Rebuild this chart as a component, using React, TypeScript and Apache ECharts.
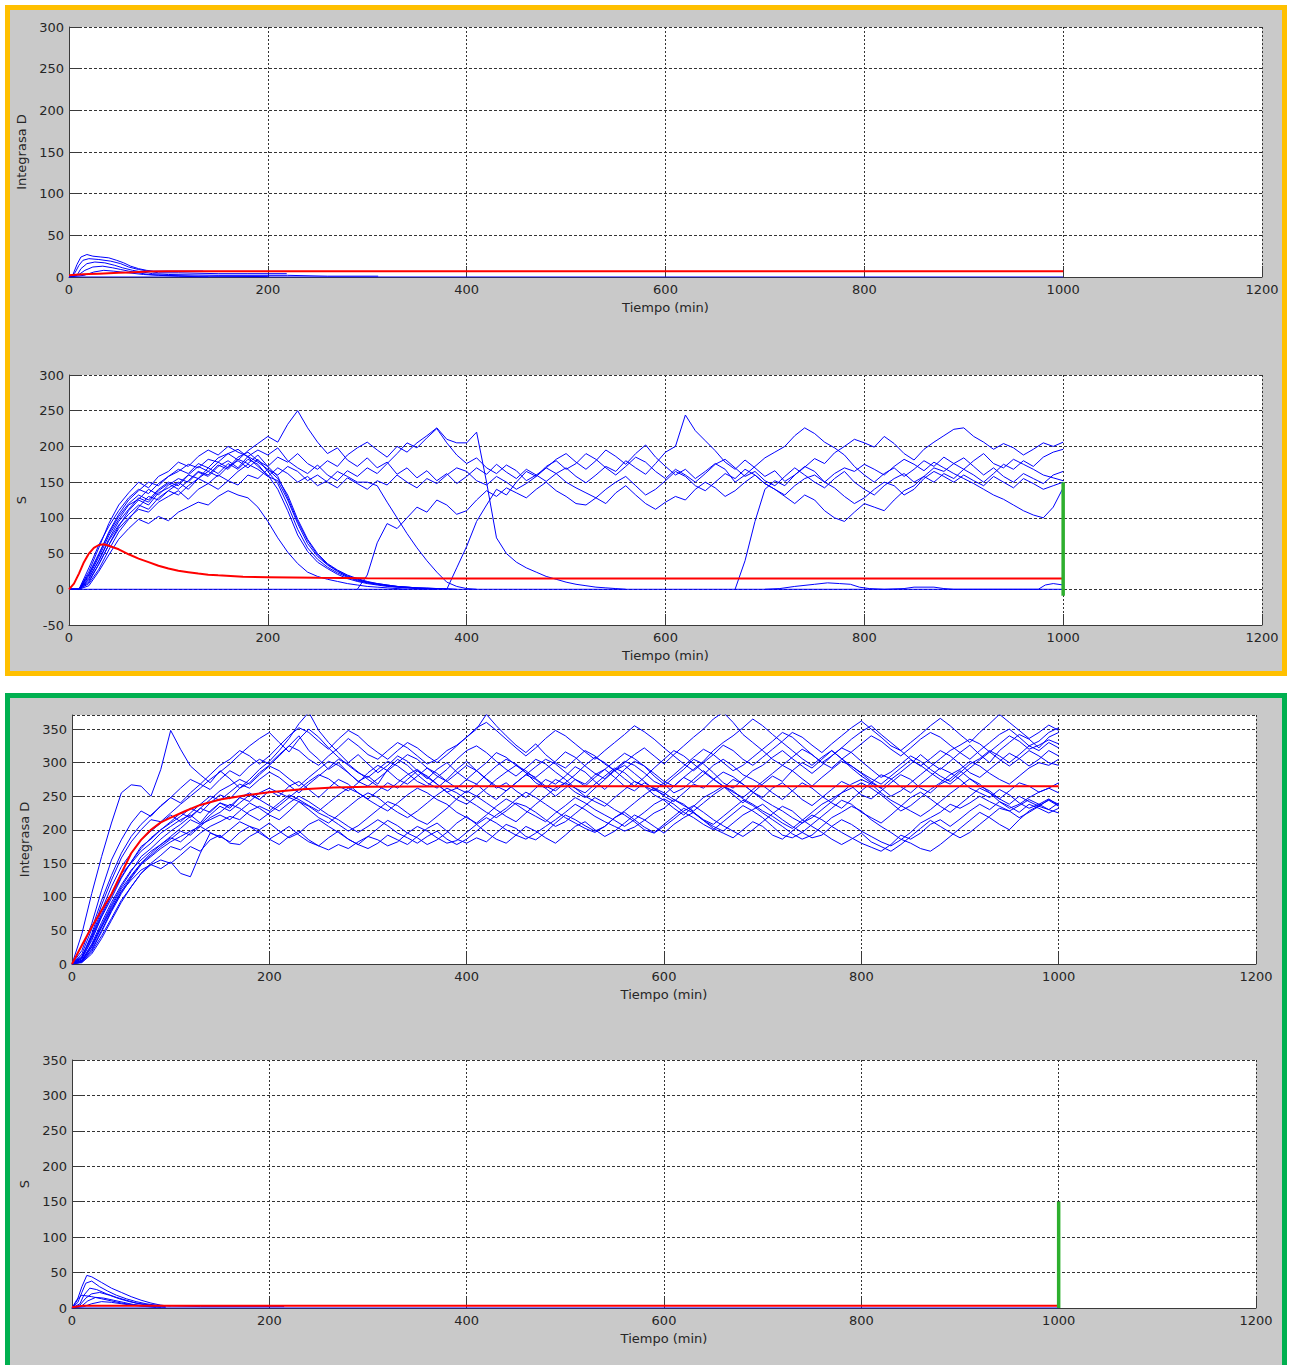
import React, { useEffect, useRef } from "react";
import * as echarts from "echarts";

// ---------- axis ticks ----------
const X_TICKS = [0, 200, 400, 600, 800, 1000, 1200];
const STEP = 10; // minutes between sampled trajectory values

// ---------- Panel 1 (yellow box, Integrasa D) ----------
const P1_BLUE: number[][][] = [
  [[0,0],[4,3],[8,15],[12,24],[18,27],[24,25],[32,24],[40,23],[48,20],[55,17],[62,13],[70,10],[78,8],[85,7],[100,7],[120,7],[135,7]],
  [[0,0],[6,5],[10,14],[14,20],[20,22],[30,21],[42,19],[52,16],[60,12],[70,9],[80,7],[90,5],[110,5],[150,4],[180,4],[219,4]],
  [[0,0],[8,2],[12,10],[18,16],[26,18],[36,17],[46,14],[54,11],[64,8],[74,6],[84,4],[100,3],[150,2],[220,2],[260,1],[311,1]],
  [[0,0],[10,3],[16,8],[24,12],[34,13],[44,11],[52,9],[60,7],[70,5],[80,3],[95,2],[130,1],[200,0.5]],
  [[0,0],[15,2],[25,6],[35,8],[45,7],[60,5],[75,3],[90,2],[110,1],[140,0]],
  [[0,0],[1000,0]],
];
const P1_RED: number[][] = [[0,2],[10,3],[20,3.5],[30,4],[40,4.5],[50,5],[60,5.5],[70,6],[80,6.5],[100,7],[150,7],[200,7],[1000,7]];

// ---------- Panel 2 (yellow box, S) ----------
const S2_A = [0,0,30,62,88,110,128,140,134,148,
  158,168,162,176,170,184,190,181,194,204,
  214,206,231,250,226,206,190,198,181,172,
  184,170,178,161,170,156,166,152,162,148,
  158,170,161,175,164,155,168,160,151,162,
  170,158,149,160,172,165,180,170,161,176,
  192,200,244,222,208,194,178,168,181,170,
  158,166,151,160,171,183,176,191,200,210,
  205,199,214,204,190,181,196,206,215,224,
  226,214,206,196,204,198,188,196,205,200,
  206];
const S2_B = [0,0,18,45,75,98,118,126,140,132,
  146,155,150,164,158,172,180,170,186,195,
  188,198,180,170,162,174,160,152,166,158,
  170,162,176,190,205,198,212,225,205,188,
  176,184,170,162,174,166,152,160,170,182,
  190,178,168,180,195,186,175,190,202,185,
  172,160,168,155,165,176,168,150,160,172,
  184,192,200,215,226,218,206,198,188,172,
  160,150,162,170,158,168,180,172,185,176,
  168,180,190,176,170,182,175,168,160,156,
  152];
const S2_C = [0,0,10,35,62,85,100,112,108,122,
  130,138,126,140,148,140,152,146,160,155,
  168,160,172,165,152,160,150,142,156,148,
  140,152,146,160,150,142,155,148,160,170,
  165,152,146,158,150,140,148,158,170,162,
  150,142,135,128,140,150,158,145,132,140,
  152,165,158,145,138,150,162,155,168,160,
  148,140,132,145,155,160,150,162,170,165,
  175,168,160,172,182,175,166,178,170,162,
  155,148,140,132,126,118,110,104,100,115,
  142];
const S2_D_START = 290;
const S2_D = [0,
  20,65,92,85,100,115,108,125,118,105,
  110,125,138,130,142,135,128,140,150,138,
  130,120,118,128,120,135,145,132,120,112,
  122,130,125,140,150,142,130,138,150,160,
  148,140,130,120,132,125,110,100,95,108,
  120,115,110,125,138,145,158,150,162,155,
  168,160,150,162,175,168,180,172,185,192,
  196];
const S2_F_START = 380;
const S2_F = [0,30,
  60,95,118,140,132,150,165,158,172,180,
  168,176,190,182,170,160,172,185,178,165,
  155,168,160,150,162,175,182,170,158,165,
  152,145,158,170,160,150,142,155,165,150,
  140,132,145,155,162,150,158,170,165,176,
  184,172,160,170,158,150,162,155,148,160,
  165];
const S2_E_START = 670;
const S2_E = [0,40,95,
  140,152,145,160,172,165,150,142,130,120,
  128,140,150,145,132,140,155,165,158,150,
  160,152,145,158,150,142,155,148,140,145,
  150];
const S2_T9 = [0,0,22,50,78,102,120,132,125,140,
  150,145,160,172,165,178,170,185,192,180,
  172,185,178,190,176,168,180,172,188,198,
  206,195,185,200,192,205,215,226,210,205,
  205,220,150,72,50,38,30,24,18,14,
  10,7,5,3,2,1,0];
const S2_T11 = [0,0,15,40,68,90,105,118,112,128,
  138,132,145,155,148,160,152,165,175,168,
  158,170,162,150,158,145,152,165,158,150,
  150,145,122,100,78,58,40,24,10,4,
  1,0];
const S2_T1 = [0,0,5,25,48,70,85,98,92,102,
  96,108,115,122,118,130,138,132,128,115,
  95,72,52,36,24,18,14,11,8,6,
  4,3,2,1,0];
const S2_B1 = [0,0,20,48,80,105,125,138,150,145,
  158,165,175,170,182,178,190,196,185,172,
  160,140,110,76,53,38,29,21,15,11,
  8,6,4,3,2,1,0];
const S2_B2 = [0,0,12,35,62,88,110,125,118,135,
  142,150,140,155,165,158,172,180,170,182,
  165,148,118,84,58,42,31,23,17,12,
  9,7,5,3,2,1,1,0];
const S2_B3 = [0,0,8,28,55,80,98,115,130,125,
  138,148,160,155,170,162,176,168,182,175,
  158,152,125,92,64,46,34,25,18,13,
  10,7,5,4,3,2,1,0];
const S2_B4 = [0,0,25,58,92,118,135,150,142,158,
  165,178,172,186,195,188,200,192,186,178,
  168,155,132,98,70,50,36,27,20,15,
  11,8,6,4,3,2,1,1,0];
const S2_B5 = [0,0,15,40,70,95,112,128,122,138,
  148,140,152,165,160,174,168,182,176,188,
  172,158,128,95,68,48,35,26,19,14,
  10,8,6,4,3,2,2,1,1,0];
const S2_ZERO: number[][] = [[0,0],[1000,0]];
const S2_BUMPS: number[][] = [[700,0],[715,1],[730,4],[750,7],[763,9],[775,8],[786,7],[795,3],[805,1],[820,0],[840,1],[850,3],[870,3],[880,1],[890,0],[975,0],[982,6],[990,8],[1000,6]];
const P2_RED: number[][] = [[0,0],[5,8],[10,22],[15,38],[20,50],[25,58],[30,62],[35,63],[40,61],[50,56],[60,49],[70,43],[80,38],[90,33],[100,29],[110,26],[120,24],[130,22],[140,20.5],[150,19.5],[175,17.5],[200,17],[250,16],[300,15.5],[400,15],[1000,15]];
const P2_GREEN: number[][] = [[1000,-9],[1000,150]];

// ---------- Panel 3 (green box, Integrasa D) ----------
const D3_1 = [0,45,105,160,210,255,267,265,250,290,
  348,320,295,282,270,288,276,262,270,285,
  296,310,325,340,318,305,290,300,285,272,
  280,268,290,305,296,282,270,262,275,290,
  302,288,275,262,270,258,248,262,275,268,
  280,294,286,272,260,275,290,302,295,280,
  268,255,262,275,288,276,265,252,240,255,
  268,280,272,288,300,292,305,318,306,292,
  280,270,262,275,286,298,312,300,290,302,
  315,326,312,300,318,330,342,335,322,338,
  345];
const D3_2 = [0,12,40,75,105,135,150,168,180,195,
  205,215,222,210,228,240,232,248,255,245,
  258,250,265,272,260,248,262,275,268,255,
  246,258,270,262,275,288,280,268,256,262,
  275,268,255,245,258,270,282,275,262,250,
  262,275,268,282,290,278,265,258,270,262,
  250,242,255,268,262,275,286,279,268,256,
  248,262,270,258,245,236,248,260,272,265,
  252,246,258,270,282,275,262,255,268,276,
  288,276,265,258,246,238,250,242,235,245,
  238];
const D3_3 = [0,5,25,55,82,108,125,140,148,155,
  150,162,175,168,185,192,180,178,190,198,
  186,195,205,192,182,176,188,198,186,178,
  190,202,214,206,195,188,178,185,196,210,
  220,208,196,186,180,192,205,198,188,180,
  192,205,212,200,190,198,210,222,215,205,
  195,208,218,226,214,202,195,188,200,212,
  205,192,186,198,210,222,215,205,196,188,
  180,174,168,178,192,186,195,208,215,205,
  216,228,238,230,242,235,226,238,232,225,
  232];
const D3_4 = [0,8,35,70,98,128,152,175,186,200,
  210,220,232,225,240,252,246,262,275,290,
  302,318,336,358,375,348,330,315,300,312,
  298,285,296,310,302,288,276,290,300,286,
  275,288,300,315,308,296,285,278,290,302,
  316,308,295,284,276,290,302,296,285,272,
  265,278,290,305,298,285,270,262,275,288,
  296,308,318,306,295,284,296,310,322,315,
  302,290,278,286,298,310,302,290,280,272,
  285,298,306,318,310,300,312,325,318,330,
  322];
const D3_5 = [0,3,18,42,68,95,115,135,148,142,
  152,135,130,165,195,190,182,196,205,200,
  210,198,188,195,208,215,205,196,186,178,
  172,180,192,185,178,190,202,210,198,186,
  180,188,182,195,208,202,190,185,196,210,
  222,215,206,198,205,218,226,215,204,196,
  208,220,232,225,214,205,198,210,222,230,
  238,226,215,205,196,188,192,205,215,208,
  198,190,182,176,185,196,210,218,226,238,
  232,240,250,242,235,228,236,245,238,230,
  240];
const D3_6 = [0,20,60,110,155,185,210,228,220,236,
  248,240,255,268,260,275,288,280,295,305,
  298,312,325,318,305,296,310,322,336,325,
  312,305,318,330,322,310,298,305,318,326,
  338,350,372,355,340,326,315,328,312,300,
  292,305,318,310,298,288,300,312,322,310,
  298,312,325,338,350,365,375,360,342,330,
  318,305,296,308,320,312,300,292,305,316,
  328,340,332,320,310,322,335,345,338,326,
  315,305,318,330,342,350,338,325,332,345,
  352];
const D3_7 = [0,6,28,58,88,115,138,160,172,186,
  198,208,220,232,226,240,235,248,242,255,
  262,255,248,260,272,282,276,265,258,270,
  285,296,288,275,268,280,292,284,272,262,
  255,268,282,295,305,298,285,270,262,275,
  268,256,248,262,275,288,296,284,272,260,
  252,265,278,270,282,296,305,295,282,275,
  266,255,245,258,270,262,250,240,232,245,
  258,270,282,276,264,255,268,280,292,285,
  275,262,255,248,260,252,240,232,238,246,
  236];
const D3_8 = [0,4,20,48,78,105,128,148,160,172,
  182,190,198,205,196,188,200,212,205,195,
  186,178,190,198,185,176,170,178,172,182,
  190,185,176,182,195,205,198,188,180,184,
  196,208,218,210,200,192,186,195,205,215,
  226,238,230,220,212,205,198,204,214,225,
  232,245,238,226,215,208,220,232,244,236,
  225,215,205,194,186,192,205,218,226,235,
  228,215,205,196,186,180,172,168,178,190,
  202,214,226,218,208,200,215,228,236,244,
  235];
const D3_9 = [0,10,45,88,125,158,182,200,215,212,
  225,238,250,262,275,286,298,312,325,336,
  345,330,316,335,350,338,322,308,296,285,
  278,290,302,295,284,272,265,278,290,305,
  318,325,315,302,290,280,292,305,298,286,
  275,262,255,268,280,292,285,272,265,258,
  270,282,295,308,320,312,300,288,296,308,
  320,332,345,338,325,312,300,310,322,335,
  346,355,342,330,318,305,295,306,318,310,
  298,285,278,290,302,314,306,295,305,318,
  310];
const D3_10 = [0,2,15,38,65,92,115,135,150,162,
  175,170,182,195,205,212,220,215,228,235,
  228,240,252,245,236,228,240,252,262,255,
  245,236,228,240,252,262,255,245,238,226,
  218,210,222,235,246,238,228,220,212,225,
  236,248,240,230,222,214,205,215,226,238,
  246,238,226,218,208,200,212,224,236,228,
  218,205,192,188,196,208,220,232,244,238,
  226,218,210,222,235,248,256,246,235,226,
  238,250,262,255,246,258,270,265,256,262,
  270];
const D3_11 = [0,15,52,95,132,165,190,208,222,235,
  248,262,275,268,282,296,305,318,310,298,
  310,325,340,352,345,332,320,335,348,340,
  326,315,305,318,330,322,310,300,312,325,
  338,352,360,348,335,322,310,322,336,348,
  340,328,316,305,318,330,342,355,346,335,
  322,310,298,288,300,312,326,318,305,296,
  308,320,332,345,338,326,315,328,340,352,
  362,350,338,325,318,330,342,355,366,355,
  342,330,345,358,372,360,348,336,345,356,
  348];
const D3_12 = [0,5,30,62,92,118,140,155,168,178,
  188,182,195,208,215,222,215,228,240,232,
  222,215,228,242,235,225,218,208,198,206,
  218,230,242,236,225,215,208,220,232,246,
  258,250,240,230,220,212,225,238,250,262,
  270,262,250,242,235,248,260,272,265,252,
  244,232,222,235,248,256,265,258,246,238,
  228,220,210,202,214,226,238,246,255,262,
  270,262,252,240,228,236,248,260,270,282,
  290,302,295,284,275,268,280,292,300,296,
  305];
const D3_13 = [0,8,38,72,102,130,152,172,188,200,
  212,225,218,232,245,258,266,275,268,282,
  295,288,276,265,278,290,302,296,285,272,
  265,276,288,300,312,305,292,280,272,284,
  296,288,276,265,258,270,282,294,305,298,
  286,275,265,278,290,302,314,306,295,284,
  272,265,278,290,302,318,330,340,352,365,
  355,342,330,318,306,296,308,318,306,295,
  285,276,268,280,292,304,296,285,275,268,
  280,292,304,316,328,340,332,320,326,334,
  328];
const D3_14 = [0,3,22,50,80,108,130,150,165,178,
  190,202,215,208,222,235,228,240,252,245,
  236,228,240,250,242,232,222,215,205,196,
  205,215,206,195,188,180,190,198,186,178,
  186,198,210,222,232,245,256,248,238,228,
  218,210,202,196,205,218,228,240,252,262,
  255,245,236,228,240,252,262,275,268,256,
  245,236,228,218,210,218,230,242,255,268,
  275,268,255,244,236,228,220,230,242,254,
  265,276,268,255,242,232,238,248,256,262,
  255];
const D3_15 = [0,10,42,80,115,145,165,185,198,210,
  222,212,225,238,250,244,256,268,262,275,
  286,278,266,255,268,280,292,305,298,286,
  275,265,258,270,282,290,278,268,256,245,
  238,250,262,275,286,296,288,276,265,258,
  270,282,296,308,300,288,276,265,278,292,
  305,318,310,298,286,275,265,256,248,260,
  272,284,296,288,276,265,278,290,302,295,
  284,272,262,250,258,270,282,294,306,318,
  326,335,328,316,305,295,306,318,310,300,
  296];
const D3_16 = [0,4,26,55,85,112,132,150,162,175,
  186,198,192,205,218,226,238,232,222,214,
  225,236,248,242,230,218,210,222,234,246,
  255,248,236,226,218,228,240,252,262,255,
  245,236,226,218,228,240,235,226,215,205,
  212,224,236,248,240,230,222,212,200,195,
  205,216,228,236,226,215,206,198,190,200,
  212,224,235,228,215,205,196,186,178,186,
  195,182,175,168,178,190,202,214,205,196,
  188,196,208,220,232,228,218,226,235,230,
  225];
const P3_RED: number[][] = [[0,0],[10,28],[20,55],[30,80],[40,104],[50,135],[60,165],[70,185],[80,200],[90,211],[100,218],[115,228],[130,237],[150,245],[175,251],[200,256],[230,260],[265,263],[300,264],[400,265],[1000,265]];

// ---------- Panel 4 (green box, S) ----------
const P4_BLUE: number[][][] = [
  [[0,0],[5,10],[10,30],[15,46],[20,44],[30,36],[40,28],[50,22],[60,16],[70,11],[80,7],[90,4],[97,3],[130,2],[215,2]],
  [[0,0],[6,8],[10,22],[14,35],[20,38],[28,30],[36,24],[45,18],[55,13],[65,9],[75,6],[85,4],[100,3]],
  [[0,0],[8,6],[12,18],[18,28],[25,26],[35,20],[45,15],[55,11],[65,7],[75,5],[90,3]],
  [[0,0],[8,4],[14,14],[20,20],[28,22],[38,18],[48,13],[58,9],[68,6],[80,3],[95,2]],
  [[0,0],[10,3],[16,10],[24,15],[32,14],[42,11],[52,8],[62,5],[75,3],[90,1]],
  [[0,0],[12,2],[20,6],[30,9],[40,8],[50,6],[60,4],[75,2],[95,1]],
  [[0,0],[5,12],[10,18],[20,16],[30,13],[40,10],[50,7],[60,5],[70,3],[85,1]],
  [[0,0],[1000,0]],
];
const P4_RED: number[][] = [[0,1],[5,2],[10,3],[20,3],[1000,3]];
const P4_GREEN: number[][] = [[1000,0],[1000,150]];

// ---------- styles ----------
const BLUE = "#0000FF";
const RED = "#FF0000";
const GREEN = "#2EAF2E";
const FONT = "DejaVu Sans, Arial, sans-serif";
const TXT = "#262626";
const AX = "#3a3a3a";

const toPairs = (start: number, ys: number[]) =>
  ys.map((y, i) => [start + i * STEP, y]).filter((p) => p[0] <= 1000);

function App() {
  const ref = useRef<HTMLDivElement>(null);
  useEffect(() => {
    document.body.style.margin = "0";
    if (!ref.current) return;
    const chart = echarts.init(ref.current, undefined, { renderer: "svg" });

    const line = (idx: number, data: number[][], color: string, width: number, z: number) => ({
      type: "line",
      xAxisIndex: idx,
      yAxisIndex: idx,
      data,
      symbol: "none",
      showSymbol: false,
      silent: true,
      clip: true,
      z,
      lineStyle: { color, width },
      itemStyle: { color },
    });

    const grids = [
      { left: 69, top: 27, width: 1193, height: 250 },
      { left: 69, top: 375, width: 1193, height: 250 },
      { left: 72, top: 715, width: 1184, height: 249 },
      { left: 72, top: 1060, width: 1184, height: 248 },
    ].map((g) => ({ ...g, show: true, backgroundColor: "#ffffff", borderWidth: 0 }));

    const xAxes = grids.map((_, i) => ({
      gridIndex: i,
      type: "value",
      min: X_TICKS[0],
      max: X_TICKS[X_TICKS.length - 1],
      interval: X_TICKS[1] - X_TICKS[0],
      name: "Tiempo (min)",
      nameLocation: "middle",
      nameGap: 24,
      nameTextStyle: { color: TXT, fontSize: 13, fontFamily: FONT },
      axisLine: { show: true, onZero: false, lineStyle: { color: AX, width: 1 } },
      axisTick: { show: true, inside: true, length: 11, lineStyle: { color: AX } },
      axisLabel: { color: TXT, fontSize: 13, fontFamily: FONT, margin: 6, formatter: (v: number) => String(v) },
      splitLine: { show: true, lineStyle: { color: "#333", width: 1, type: [2, 2] } },
    }));

    const yCfg = [
      { min: 0, max: 300, name: "Integrasa D" },
      { min: -50, max: 300, name: "S" },
      { min: 0, max: 371, name: "Integrasa D" },
      { min: 0, max: 350, name: "S" },
    ];
    const yAxes = yCfg.map((c, i) => ({
      gridIndex: i,
      type: "value",
      min: c.min,
      max: c.max,
      interval: 50,
      name: c.name,
      nameLocation: "middle",
      nameGap: 40,
      nameTextStyle: { color: TXT, fontSize: 13, fontFamily: FONT },
      axisLine: { show: true, onZero: false, lineStyle: { color: AX, width: 1 } },
      axisTick: { show: true, inside: true, length: 11, lineStyle: { color: AX } },
      axisLabel: { color: TXT, fontSize: 13, fontFamily: FONT, margin: 5, showMaxLabel: c.max % 50 === 0, formatter: (v: number) => String(v) },
      splitLine: { show: true, lineStyle: { color: "#333", width: 1, type: [3, 2] } },
    }));

    const series: any[] = [];
    // panel 1
    P1_BLUE.forEach((d) => series.push(line(0, d, BLUE, 1, 2)));
    series.push(line(0, P1_RED, RED, 2, 3));
    // panel 2
    [
      [0, S2_A], [0, S2_B], [0, S2_C], [S2_D_START, S2_D], [S2_F_START, S2_F], [S2_E_START, S2_E],
      [0, S2_T9], [0, S2_T11], [0, S2_T1], [0, S2_B1], [0, S2_B2], [0, S2_B3], [0, S2_B4], [0, S2_B5],
    ].forEach(([s, ys]: any) => series.push(line(1, toPairs(s, ys), BLUE, 1, 2)));
    series.push(line(1, S2_ZERO, BLUE, 1, 2));
    series.push(line(1, S2_BUMPS, BLUE, 1, 2));
    series.push(line(1, P2_RED, RED, 2, 3));
    series.push(line(1, P2_GREEN, GREEN, 3.5, 4));
    // panel 3
    [D3_1, D3_2, D3_3, D3_4, D3_5, D3_6, D3_7, D3_8, D3_9, D3_10, D3_11, D3_12, D3_13, D3_14, D3_15, D3_16]
      .forEach((ys) => series.push(line(2, toPairs(0, ys), BLUE, 1, 2)));
    series.push(line(2, P3_RED, RED, 2, 3));
    // panel 4
    P4_BLUE.forEach((d) => series.push(line(3, d, BLUE, 1, 2)));
    series.push(line(3, P4_RED, RED, 2, 3));
    series.push(line(3, P4_GREEN, GREEN, 3.5, 4));

    chart.setOption({
      animation: false,
      backgroundColor: "#ffffff",
      graphic: [
        { type: "rect", z: -10, silent: true, shape: { x: 7.5, y: 7.5, width: 1277, height: 666 }, style: { fill: "#C9C9C9", stroke: "#FFC000", lineWidth: 5 } },
        { type: "rect", z: -10, silent: true, shape: { x: 7.5, y: 695.5, width: 1277, height: 690 }, style: { fill: "#C9C9C9", stroke: "#00B050", lineWidth: 5 } },
      ],
      grid: grids,
      xAxis: xAxes,
      yAxis: yAxes,
      series,
    });
    return () => chart.dispose();
  }, []);
  return <div ref={ref} style={{ width: 1289, height: 1365 }} />;
}

export default App;
